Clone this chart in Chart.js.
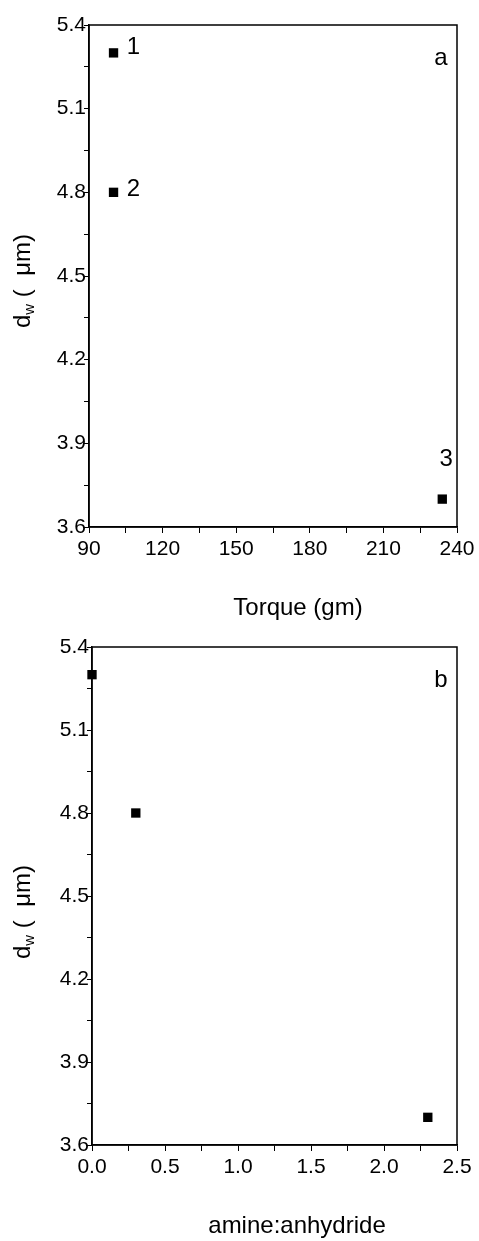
<!DOCTYPE html>
<html>
<head>
<meta charset="utf-8">
<script src="https://cdn.jsdelivr.net/npm/chart.js@4"></script>
<style>
  body { margin: 0; background: #fff; }
  .box { position: relative; width: 479px; }
</style>
</head>
<body>
<div class="box" style="height:620px"><canvas id="chartA"></canvas></div>
<div class="box" style="height:621px"><canvas id="chartB"></canvas></div>
<script>
// panel a: d_w against torque
const torque = [100, 100, 234];
const dwTorque = [5.3, 4.8, 3.7];
const sampleLabels = ['1', '2', '3'];

// panel b: d_w against amine:anhydride ratio
const ratio = [0, 0.3, 2.3];
const dwRatio = [5.3, 4.8, 3.7];

const yTicks = [3.6, 3.9, 4.2, 4.5, 4.8, 5.1, 5.4];
const xTicksA = [90, 120, 150, 180, 210, 240];
const xTicksB = [0.0, 0.5, 1.0, 1.5, 2.0, 2.5];

const FONT = '"Liberation Sans", Arial, sans-serif';

function points(xs, ys) {
  return xs.map((x, i) => ({ x: x, y: ys[i] }));
}

// draws the frame, axis titles and the in-plot text
const decor = {
  id: 'decor',
  afterDraw(chart, args, o) {
    const ctx = chart.ctx;
    const a = chart.chartArea;
    ctx.save();
    ctx.strokeStyle = '#000';
    ctx.lineWidth = 1.5;
    ctx.strokeRect(a.left, a.top, a.right - a.left, a.bottom - a.top);

    ctx.fillStyle = '#000';
    // x title
    ctx.font = '24px ' + FONT;
    ctx.textAlign = 'center';
    ctx.textBaseline = 'alphabetic';
    ctx.fillText(o.xTitle, o.xTitleX, o.xTitleY);

    // y title, rotated, with subscript
    ctx.save();
    ctx.translate(o.yTitleX, o.yTitleY);
    ctx.rotate(-Math.PI / 2);
    ctx.textAlign = 'left';
    ctx.textBaseline = 'middle';
    ctx.font = '24px ' + FONT;
    const wD = ctx.measureText('d').width;
    const rest = ' (  \u03bcm)';
    const wRest = ctx.measureText(rest).width;
    ctx.font = '15px ' + FONT;
    const wW = ctx.measureText('w').width;
    let x = -(wD + wW + wRest) / 2;
    ctx.font = '24px ' + FONT;
    ctx.fillText('d', x, 0);
    x += wD;
    ctx.font = '15px ' + FONT;
    ctx.fillText('w', x, 7);
    x += wW;
    ctx.font = '24px ' + FONT;
    ctx.fillText(rest, x, 0);
    ctx.restore();

    // panel letter
    ctx.font = '24px ' + FONT;
    ctx.textAlign = 'center';
    ctx.textBaseline = 'middle';
    ctx.fillText(o.letter, a.right - 16, a.top + 33);

    // sample numbers next to points
    if (o.pointLabels) {
      const meta = chart.getDatasetMeta(0);
      meta.data.forEach((pt, i) => {
        const off = o.pointLabels.offsets[i];
        ctx.textAlign = 'center';
        ctx.fillText(o.pointLabels.text[i], pt.x + off[0], pt.y + off[1]);
      });
    }
    ctx.restore();
  }
};

function yScale(width) {
  return {
    min: 3.6,
    max: 5.4,
    afterFit: s => { s.width = width; },
    afterBuildTicks: s => {
      s.ticks = [];
      for (let k = 0; k <= 12; k++) s.ticks.push({ value: 3.6 + k * 0.15 });
    },
    border: { display: true, color: '#000', width: 1.5 },
    grid: { drawOnChartArea: false, drawTicks: true, tickLength: 5, tickColor: '#000', tickWidth: 1 },
    ticks: {
      padding: -2,
      color: '#000',
      font: { family: FONT, size: 21 },
      callback: v => {
        const r = Math.round(v * 100);
        return yTicks.some(t => Math.round(t * 100) === r) ? (r / 100).toFixed(1) : '';
      }
    }
  };
}

function xScale(min, max, labels, minorStep, height, digits) {
  return {
    type: 'linear',
    min: min,
    max: max,
    afterFit: s => { s.height = height; },
    afterBuildTicks: s => {
      s.ticks = [];
      const n = Math.round((max - min) / minorStep);
      for (let k = 0; k <= n; k++) s.ticks.push({ value: min + k * minorStep });
    },
    border: { display: true, color: '#000', width: 1.5 },
    grid: { drawOnChartArea: false, drawTicks: true, tickLength: 6, tickColor: '#000', tickWidth: 1 },
    ticks: {
      padding: 4,
      maxRotation: 0,
      autoSkip: false,
      color: '#000',
      font: { family: FONT, size: 21 },
      callback: v => {
        const hit = labels.find(t => Math.abs(t - v) < 1e-6);
        return hit === undefined ? '' : hit.toFixed(digits);
      }
    }
  };
}

function dataset(data) {
  return {
    data: data,
    showLine: false,
    clip: false,
    pointStyle: 'rect',
    pointRadius: 6.6,
    pointHoverRadius: 6.6,
    pointBorderWidth: 0,
    backgroundColor: '#000',
    borderColor: '#000'
  };
}

new Chart(document.getElementById('chartA'), {
  type: 'scatter',
  data: { datasets: [dataset(points(torque, dwTorque))] },
  options: {
    responsive: true,
    maintainAspectRatio: false,
    animation: false,
    layout: { padding: { left: 0, right: 22, top: 25, bottom: 0 } },
    plugins: {
      legend: { display: false },
      tooltip: { enabled: false },
      decor: {
        xTitle: 'Torque (gm)', xTitleX: 298, xTitleY: 615,
        yTitleX: 23, yTitleY: 281,
        letter: 'a',
        pointLabels: { text: sampleLabels, offsets: [[20, -6], [20, -3], [4, -40]] }
      }
    },
    scales: {
      x: xScale(90, 240, xTicksA, 15, 93, 0),
      y: yScale(89)
    }
  },
  plugins: [decor]
});

new Chart(document.getElementById('chartB'), {
  type: 'scatter',
  data: { datasets: [dataset(points(ratio, dwRatio))] },
  options: {
    responsive: true,
    maintainAspectRatio: false,
    animation: false,
    layout: { padding: { left: 0, right: 22, top: 27, bottom: 0 } },
    plugins: {
      legend: { display: false },
      tooltip: { enabled: false },
      decor: {
        xTitle: 'amine:anhydride', xTitleX: 297, xTitleY: 613,
        yTitleX: 23, yTitleY: 292,
        letter: 'b'
      }
    },
    scales: {
      x: xScale(0, 2.5, xTicksB, 0.25, 96, 1),
      y: yScale(92)
    }
  },
  plugins: [decor]
});
</script>
</body>
</html>
